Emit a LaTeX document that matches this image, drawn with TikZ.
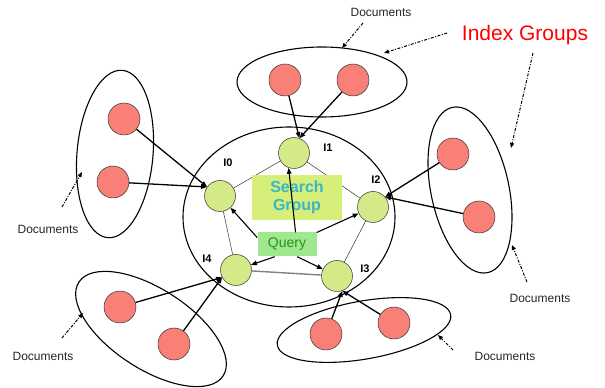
\documentclass[tikz,border=0pt]{standalone}
\usepackage{fontspec}
\setmainfont{Liberation Sans}
\usetikzlibrary{arrows.meta}

\definecolor{idxgreen}{RGB}{212,234,136}
\definecolor{docred}{RGB}{248,128,118}
\definecolor{sgfill}{RGB}{214,238,122}
\definecolor{sgtext}{RGB}{58,182,198}
\definecolor{qfill}{RGB}{160,232,144}
\definecolor{qtext}{RGB}{30,150,30}

\begin{document}
\begin{tikzpicture}[x=1pt,y=1pt,
  indexnode/.style={circle,draw=black!80,fill=idxgreen,minimum size=31pt,inner sep=0pt,line width=0.5pt},
  docnode/.style={circle,draw=black!80,fill=docred,minimum size=32pt,inner sep=0pt,line width=0.5pt},
  group/.style={line width=1.1pt},
  feed/.style={line width=1.3pt,-{Triangle[length=6pt,width=4.5pt]}},
  ask/.style={line width=1.1pt,-{Triangle[length=6pt,width=4.5pt]}},
  ring/.style={line width=0.5pt,black!80},
  pointer/.style={line width=1pt,dash pattern=on 3pt off 1.5pt on 1pt off 1.5pt,-{Triangle[length=5pt,width=4pt]}},
  idlabel/.style={font=\bfseries\fontsize{11}{13}\selectfont},
  doclabel/.style={font=\fontsize{12}{14}\selectfont,text=black!85},
]
\useasboundingbox (0,0) rectangle (605,388);

% group outlines
\draw[group] (289,171) ellipse [x radius=106, y radius=90];
\draw[group] (322,306) ellipse [x radius=85, y radius=35];
\draw[group, rotate around={-5:(115,234)}] (115,234) ellipse [x radius=38, y radius=84];
\draw[group, rotate around={12:(470,198)}] (470,198) ellipse [x radius=39, y radius=84.5];
\draw[group, rotate around={-33:(151,59)}] (151,59) ellipse [x radius=86, y radius=40];
\draw[group, rotate around={10:(364,58)}] (364,58) ellipse [x radius=88, y radius=29];

% index servers
\node[indexnode] (I0) at (220,192) {};
\node[indexnode] (I1) at (294,235) {};
\node[indexnode] (I2) at (373,181) {};
\node[indexnode] (I3) at (337,112) {};
\node[indexnode] (I4) at (236,118) {};

% ring of the search group
\draw[ring] (I0) -- (I1);
\draw[ring] (I1) -- (I2);
\draw[ring] (I2) -- (I3);
\draw[ring] (I4) -- (I0);
\draw[line width=1.4pt, black!50] (I3) -- (I4);

% search group and query boxes
\node[fill=sgfill, minimum width=90pt, minimum height=45pt, inner sep=0pt,
      align=center, text=sgtext, font=\bfseries\fontsize{16}{18}\selectfont]
      (SG) at (297,190.5) {Search\\Group};
\node[fill=qfill, minimum width=59pt, minimum height=24pt, inner sep=0pt,
      text=qtext, font=\fontsize{14}{16}\selectfont] (Q) at (287,143.5) {Query};

% server labels
\node[idlabel] (L0) at (228,225) {I0};
\node[idlabel] (L1) at (328,240) {I1};
\node[idlabel] (L2) at (376,208) {I2};
\node[idlabel] (L3) at (365,119) {I3};
\node[idlabel] (L4) at (207,129) {I4};

% query fan-out
\draw[ask] (Q.167) -- (I0);
\draw[ask] (Q.55) -- (I1.250);
\draw[ask] (Q.22) -- (I2);
\draw[ask] (Q.-50) -- (I3);
\draw[ask] (Q.225) -- (I4);

% documents
\node[docnode] (T1) at (285,308) {};
\node[docnode] (T2) at (353,308) {};
\node[docnode] (D1) at (124,269) {};
\node[docnode] (D2) at (113,206) {};
\node[docnode] (R1) at (453,234) {};
\node[docnode] (R2) at (479,171) {};
\node[docnode] (B1) at (120,81) {};
\node[docnode] (B2) at (174,44) {};
\node[docnode] (C1) at (326,54) {};
\node[docnode] (C2) at (394,65) {};

% documents feeding their index servers
\draw[feed] (T1) -- (I1.70);
\draw[feed] (T2) -- (I1.70);
\draw[feed] (D1) -- (I0.145);
\draw[feed] (D2) -- (I0.145);
\draw[feed] (R1) -- (I2.40);
\draw[feed] (R2) -- (I2.40);
\draw[feed] (B1) -- (I4.208);
\draw[feed] (B2) -- (I4.208);
\draw[feed] (C1) -- (I3.290);
\draw[feed] (C2) -- (I3.290);

% captions
\node[doclabel] (docT) at (381,376) {Documents};
\node[doclabel] (docL) at (48,159) {Documents};
\node[doclabel] (docR) at (540,90) {Documents};
\node[doclabel] (docBL) at (43,32) {Documents};
\node[doclabel] (docBR) at (505,32) {Documents};
\node[text=red, font=\fontsize{21}{24}\selectfont] (IG) at (525,353) {Index Groups};

% pointer ends
\coordinate (pT0) at (363,365);  \coordinate (pT1) at (342,340);
\coordinate (pG0) at (447,355);  \coordinate (pG1) at (384,335);
\coordinate (pH0) at (533,335);  \coordinate (pH1) at (511,240);
\coordinate (pR0) at (527,106);  \coordinate (pR1) at (512,143);
\coordinate (pC0) at (453,38);   \coordinate (pC1) at (438,53);
\coordinate (pB0) at (62,50);    \coordinate (pB1) at (83,75);
\coordinate (pL0) at (62,181);   \coordinate (pL1) at (82,216);

\draw[pointer] (pT0) -- (pT1);
\draw[pointer] (pG0) -- (pG1);
\draw[pointer] (pH0) -- (pH1);
\draw[pointer] (pR0) -- (pR1);
\draw[pointer] (pC0) -- (pC1);
\draw[pointer] (pB0) -- (pB1);
\draw[pointer] (pL0) -- (pL1);
\end{tikzpicture}
\end{document}
